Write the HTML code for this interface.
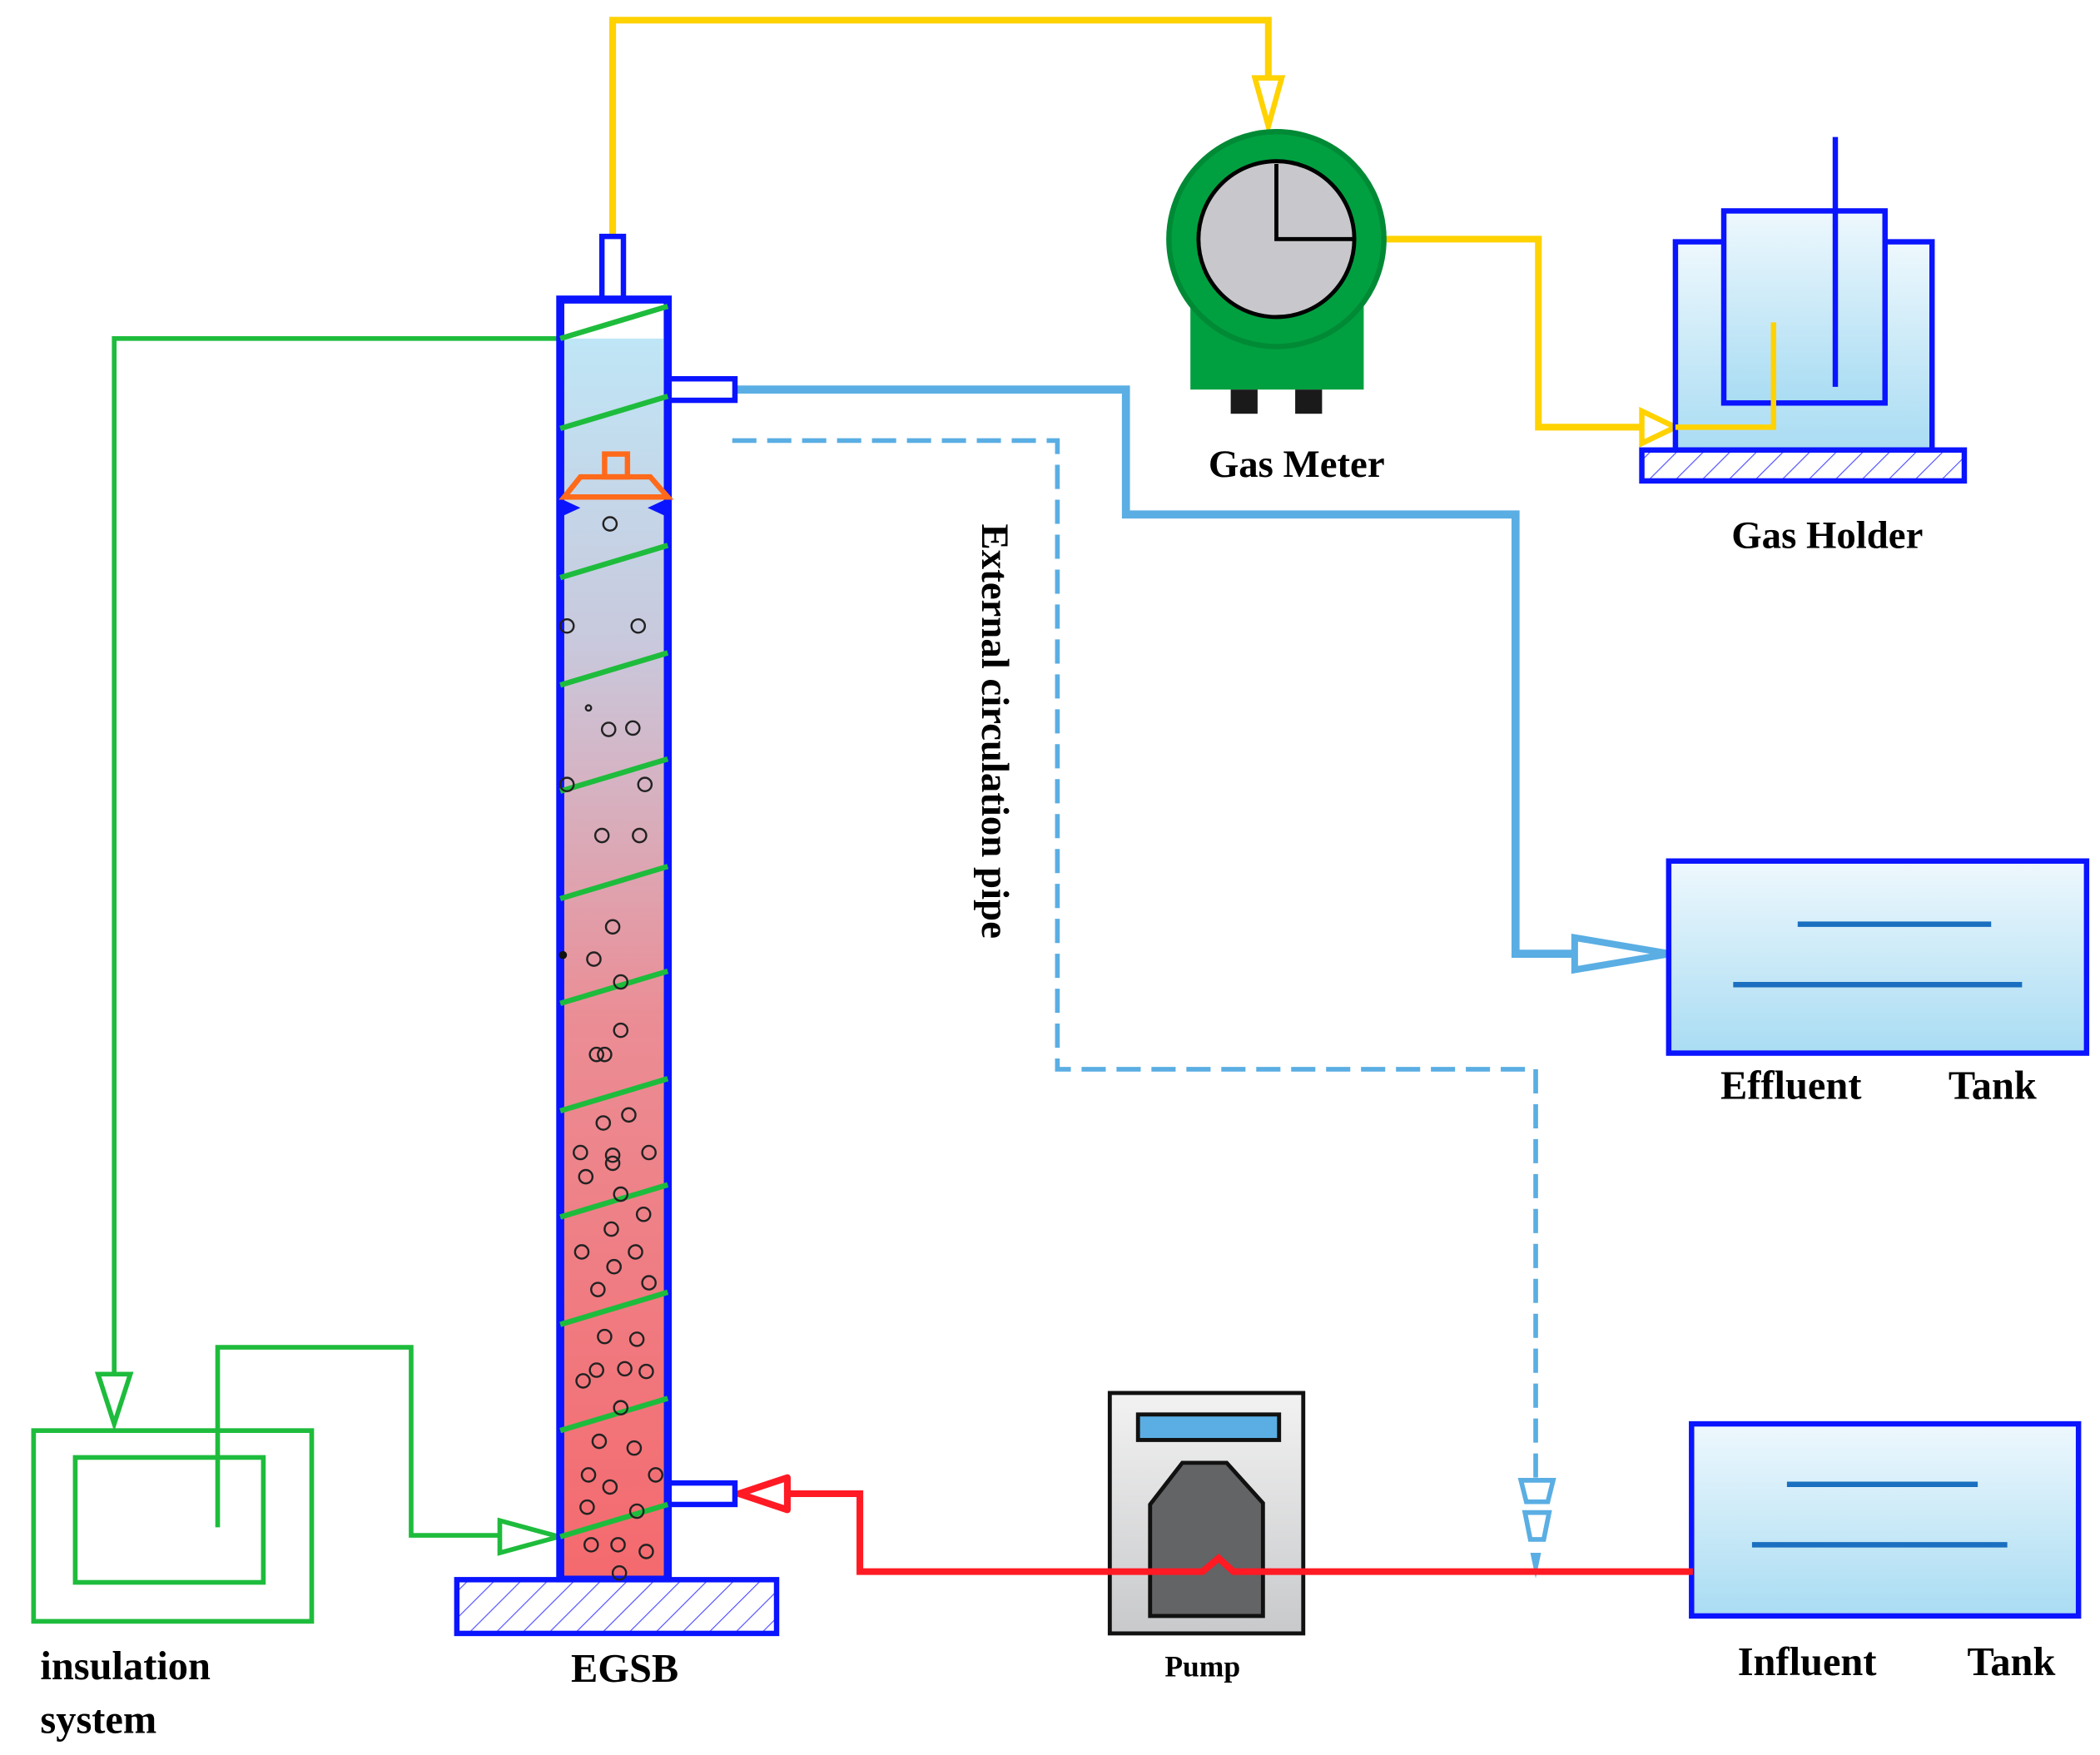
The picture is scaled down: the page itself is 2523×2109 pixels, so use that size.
<!DOCTYPE html>
<html><head><style>html,body{margin:0;padding:0;background:#fff}svg{display:block}</style></head>
<body>
<svg width="2523" height="2109" viewBox="0 0 1563 1306.5" xmlns="http://www.w3.org/2000/svg" font-family="Liberation Serif, serif">
<defs>
<linearGradient id="col" x1="0" y1="0" x2="0" y2="1">
<stop offset="0" stop-color="#bfe6f6"/><stop offset="0.25" stop-color="#c9c8dc"/><stop offset="0.55" stop-color="#eb8d95"/><stop offset="1" stop-color="#f46a6e"/></linearGradient>
<linearGradient id="tank" x1="0" y1="0" x2="0" y2="1"><stop offset="0" stop-color="#eef8fd"/><stop offset="1" stop-color="#a9dcf3"/></linearGradient>
<linearGradient id="pump" x1="0" y1="0" x2="0" y2="1"><stop offset="0" stop-color="#f2f2f2"/><stop offset="1" stop-color="#c8c9cb"/></linearGradient>
<pattern id="hatch" width="14" height="14" patternUnits="userSpaceOnUse" patternTransform="rotate(45)"><line x1="0" y1="0" x2="0" y2="14" stroke="#5555ff" stroke-width="1.5"/></pattern>
</defs>
<rect width="1563" height="1306.5" fill="#fff"/>

<polyline points="456,176 456,15 944,15 944,70" fill="none" stroke="#ffd200" stroke-width="5"/>
<polygon points="934,58 954,58 944,94" fill="#fff" stroke="#ffd200" stroke-width="4"/>
<polyline points="1030,178 1145,178 1145,318 1225,318" fill="none" stroke="#ffd200" stroke-width="5"/>
<polygon points="1222,306 1222,330 1247,318" fill="#fff" stroke="#ffd200" stroke-width="4"/>

<rect x="886" y="210" width="129" height="80" fill="#00a040"/>
<rect x="916" y="290" width="20" height="18" fill="#1a1a1a"/>
<rect x="964" y="290" width="20" height="18" fill="#1a1a1a"/>
<circle cx="950" cy="178" r="80" fill="#00a040" stroke="#008a35" stroke-width="4"/>
<circle cx="950" cy="178" r="58" fill="#c8c8cc" stroke="#000" stroke-width="3"/>
<polyline points="950,122 950,178 1008,178" fill="none" stroke="#000" stroke-width="3"/>
<text x="965" y="355" font-size="29" font-weight="bold" text-anchor="middle">Gas Meter</text>

<rect x="1247" y="180" width="191" height="155" fill="url(#tank)" stroke="#0a14ff" stroke-width="4"/>
<rect x="1283" y="157" width="120" height="143" fill="url(#tank)" stroke="#0a14ff" stroke-width="4"/>
<line x1="1366" y1="102" x2="1366" y2="288" stroke="#0a14ff" stroke-width="4"/>
<polyline points="1247,318 1320,318 1320,240" fill="none" stroke="#ffd200" stroke-width="4"/>
<rect x="1222" y="335" width="240" height="23" fill="url(#hatch)" stroke="#0a14ff" stroke-width="4"/>
<text x="1360" y="408" font-size="29" font-weight="bold" text-anchor="middle">Gas Holder</text>

<polyline points="545,290 838,290 838,383 1128,383 1128,710 1175,710" fill="none" stroke="#5aaee3" stroke-width="6"/>
<polygon points="1172,698 1172,722 1243,710" fill="#fff" stroke="#5aaee3" stroke-width="5"/>
<rect x="1242" y="641" width="311" height="143" fill="url(#tank)" stroke="#0a14ff" stroke-width="4"/>
<line x1="1338" y1="688" x2="1482" y2="688" stroke="#1a6fc0" stroke-width="4"/>
<line x1="1290" y1="733" x2="1505" y2="733" stroke="#1a6fc0" stroke-width="4"/>
<text x="1333" y="818" font-size="30" font-weight="bold" text-anchor="middle">Effluent</text>
<text x="1483" y="818" font-size="30" font-weight="bold" text-anchor="middle">Tank</text>

<polyline points="545,328 787,328 787,796 1143,796 1143,1100" fill="none" stroke="#5aaee3" stroke-width="3.5" stroke-dasharray="18,8"/>
<polygon points="1132,1102 1156,1102 1152,1118 1136,1118" fill="#fff" stroke="#5aaee3" stroke-width="3.5"/>
<polygon points="1135,1126 1153,1126 1149,1146 1139,1146" fill="#fff" stroke="#5aaee3" stroke-width="3.5"/>
<polygon points="1139,1156 1147,1156 1143,1175" fill="#5aaee3"/>
<text transform="translate(731,390) rotate(90)" font-size="29" font-weight="bold">External circulation pipe</text>

<rect x="1259" y="1060" width="288" height="143" fill="url(#tank)" stroke="#0a14ff" stroke-width="4"/>
<line x1="1330" y1="1105" x2="1472" y2="1105" stroke="#1a6fc0" stroke-width="4"/>
<line x1="1304" y1="1150" x2="1494" y2="1150" stroke="#1a6fc0" stroke-width="4"/>
<text x="1345" y="1247" font-size="30" font-weight="bold" text-anchor="middle">Influent</text>
<text x="1497" y="1247" font-size="30" font-weight="bold" text-anchor="middle">Tank</text>

<rect x="826" y="1037" width="144" height="179" fill="url(#pump)" stroke="#111" stroke-width="3"/>
<rect x="847" y="1053" width="105" height="19" fill="#5aaee3" stroke="#111" stroke-width="3"/>
<polygon points="856,1120 880,1089 913,1089 940,1119 940,1203 856,1203" fill="#626466" stroke="#111" stroke-width="3"/>
<polyline points="1260,1170 918,1170 907,1160 895,1170 640,1170 640,1112 585,1112" fill="none" stroke="#ff1a24" stroke-width="5"/>
<polygon points="550,1112 586,1100 586,1124" fill="#fff" stroke="#ff1a24" stroke-width="5" stroke-linejoin="round"/>
<text x="895" y="1248" font-size="22" font-weight="bold" text-anchor="middle">Pump</text>

<polyline points="417,252 85,252 85,1025" fill="none" stroke="#1ebc3c" stroke-width="3.5"/>
<polygon points="73,1023 97,1023 85,1060" fill="#fff" stroke="#1ebc3c" stroke-width="3.5"/>
<rect x="25" y="1065" width="207" height="142" fill="none" stroke="#1ebc3c" stroke-width="3.5"/>
<rect x="56" y="1085" width="140" height="93" fill="none" stroke="#1ebc3c" stroke-width="3.5"/>
<polyline points="162,1137 162,1003 306,1003 306,1143 372,1143" fill="none" stroke="#1ebc3c" stroke-width="3.5"/>
<polygon points="372,1132 372,1156 416,1144" fill="#fff" stroke="#1ebc3c" stroke-width="3.5"/>
<text x="30" y="1250" font-size="30" font-weight="bold">insulation</text>
<text x="30" y="1290" font-size="30" font-weight="bold">system</text>

<rect x="448" y="176" width="16" height="47" fill="#fff" stroke="#0a14ff" stroke-width="4"/>
<rect x="497" y="282" width="50" height="16" fill="#fff" stroke="#0a14ff" stroke-width="4"/>
<rect x="497" y="1104" width="50" height="16" fill="#fff" stroke="#0a14ff" stroke-width="4"/>
<rect x="417" y="223" width="80" height="952" fill="#fff" stroke="#0a14ff" stroke-width="6"/>
<rect x="420" y="252" width="74" height="921" fill="url(#col)"/>
<rect x="340" y="1176" width="238" height="40" fill="url(#hatch)" stroke="#0a14ff" stroke-width="4"/>
<g stroke="#1ebc3c" stroke-width="4">
<line x1="417" y1="252" x2="497" y2="228"/><line x1="417" y1="319" x2="497" y2="295"/>
<line x1="417" y1="430" x2="497" y2="406"/><line x1="417" y1="510" x2="497" y2="486"/>
<line x1="417" y1="589" x2="497" y2="565"/><line x1="417" y1="669" x2="497" y2="645"/>
<line x1="417" y1="747" x2="497" y2="723"/><line x1="417" y1="827" x2="497" y2="803"/>
<line x1="417" y1="906" x2="497" y2="882"/><line x1="417" y1="986" x2="497" y2="962"/>
<line x1="417" y1="1065" x2="497" y2="1041"/><line x1="417" y1="1144" x2="497" y2="1120"/>
</g>
<rect x="450" y="338" width="17" height="17" fill="none" stroke="#ff6a1a" stroke-width="4"/>
<polygon points="432,355 484,355 497,370 420,370" fill="none" stroke="#ff6a1a" stroke-width="4"/>
<polygon points="419,372 432,378 419,384" fill="#0a14ff"/><polygon points="495,372 482,378 495,384" fill="#0a14ff"/>
<g fill="none" stroke="#222" stroke-width="1.5">
<circle cx="454" cy="390" r="5"/><circle cx="422" cy="466" r="5"/><circle cx="475" cy="466" r="5"/>
<circle cx="438" cy="527" r="2"/><circle cx="453" cy="543" r="5"/><circle cx="471" cy="542" r="5"/>
<circle cx="422" cy="584" r="5"/><circle cx="480" cy="584" r="5"/><circle cx="448" cy="622" r="5"/><circle cx="476" cy="622" r="5"/>
<circle cx="456" cy="690" r="5"/><circle cx="442" cy="714" r="5"/><circle cx="462" cy="731" r="5"/>
<circle cx="462" cy="767" r="5"/><circle cx="444" cy="785" r="5"/><circle cx="450" cy="785" r="5"/>
<circle cx="449" cy="836" r="5"/><circle cx="468" cy="830" r="5"/><circle cx="432" cy="858" r="5"/><circle cx="456" cy="860" r="5"/><circle cx="483" cy="858" r="5"/>
<circle cx="436" cy="876" r="5"/><circle cx="456" cy="866" r="5"/><circle cx="462" cy="889" r="5"/><circle cx="479" cy="904" r="5"/>
<circle cx="455" cy="915" r="5"/><circle cx="433" cy="932" r="5"/><circle cx="473" cy="932" r="5"/><circle cx="457" cy="943" r="5"/><circle cx="483" cy="955" r="5"/><circle cx="445" cy="960" r="5"/>
<circle cx="450" cy="995" r="5"/><circle cx="474" cy="997" r="5"/><circle cx="444" cy="1020" r="5"/><circle cx="465" cy="1019" r="5"/><circle cx="481" cy="1021" r="5"/><circle cx="434" cy="1028" r="5"/>
<circle cx="462" cy="1048" r="5"/><circle cx="446" cy="1073" r="5"/><circle cx="472" cy="1078" r="5"/>
<circle cx="438" cy="1098" r="5"/><circle cx="454" cy="1107" r="5"/><circle cx="488" cy="1098" r="5"/><circle cx="437" cy="1122" r="5"/><circle cx="474" cy="1125" r="5"/>
<circle cx="440" cy="1150" r="5"/><circle cx="460" cy="1150" r="5"/><circle cx="481" cy="1155" r="5"/><circle cx="461" cy="1171" r="5"/>
</g>
<circle cx="419" cy="711" r="3" fill="#111"/>
<text x="465" y="1252" font-size="30" font-weight="bold" text-anchor="middle">EGSB</text>
</svg>
</body></html>
